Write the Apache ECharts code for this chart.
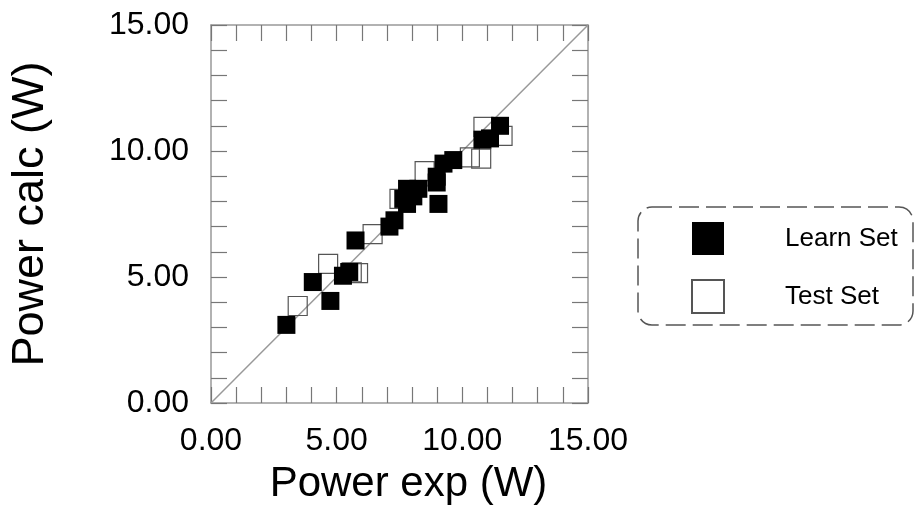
<!DOCTYPE html>
<html>
<head>
<meta charset="utf-8">
<script src="https://cdn.jsdelivr.net/npm/echarts@6/dist/echarts.min.js"></script>
<style>html,body{margin:0;padding:0;background:#fff}#c{width:919px;height:511px}</style>
</head>
<body>
<div id="c"></div>
<script>
// ---- data ----
var learnX = [3.0, 4.05, 4.75, 5.25, 5.5, 5.75, 7.1, 7.3, 7.8, 7.8, 8.25, 8.05, 7.65, 9.05, 8.98, 8.98, 9.25, 9.64, 10.8, 11.1, 11.5];
var learnY = [3.1, 4.8, 4.05, 5.05, 5.2, 6.45, 7.0, 7.25, 7.9, 8.5, 8.5, 8.2, 8.1, 7.9, 8.98, 8.75, 9.5, 9.64, 10.45, 10.5, 11.0];
var testX = [3.45, 4.66, 5.6, 5.85, 6.43, 7.5, 8.5, 10.3, 10.75, 10.84, 11.6];
var testY = [3.85, 5.52, 5.18, 5.15, 6.7, 8.1, 9.2, 9.75, 9.7, 10.96, 10.6];
var diagX = [0, 15];
var diagY = [0, 15];
var tickLabels = ['0.00', '5.00', '10.00', '15.00'];
var seriesNames = ['Learn Set', 'Test Set'];
var axisNames = ['Power exp (W)', 'Power calc (W)'];

function zip(a, b) { return a.map(function (v, i) { return [v, b[i]]; }); }
function fmt(v) { return (Math.abs(v % 5) < 1e-9) ? tickLabels[Math.round(v / 5)] : ''; }

var FONT = '"Liberation Sans", Arial, sans-serif';
var tickStyle = { show: true, inside: true, length: 16, lineStyle: { color: '#777', width: 1.2 } };
var lineStyleAxis = { show: true, onZero: false, lineStyle: { color: '#999', width: 1.5 } };

function mkAxis(pos, main, isX) {
  var a = {
    type: 'value', position: pos, min: 0, max: 15, interval: 1,
    axisLine: lineStyleAxis, axisTick: tickStyle, splitLine: { show: false },
    axisLabel: main ? {
      show: true, formatter: fmt, color: '#000', fontSize: 32, fontFamily: FONT,
      margin: isX ? 22 : 22
    } : { show: false }
  };
  if (main) {
    a.name = isX ? axisNames[0] : axisNames[1];
    a.nameLocation = 'middle';
    a.nameGap = isX ? 60 : 158;
    a.nameTextStyle = { color: '#000', fontSize: isX ? 42 : 45, fontFamily: FONT,
      padding: isX ? [0, 0, 0, 18] : [0, 0, 0, 0] };
  }
  return a;
}

var chart = echarts.init(document.getElementById('c'), null, { renderer: 'canvas' });
chart.setOption({
  animation: false,
  backgroundColor: '#fff',
  grid: { left: 211, right: 331, top: 25, bottom: 108 },
  xAxis: [mkAxis('bottom', true, true), mkAxis('top', false, true)],
  yAxis: [mkAxis('left', true, false), mkAxis('right', false, false)],
  legend: {
    data: seriesNames, orient: 'vertical', left: 686, top: 217,
    itemWidth: 32, itemHeight: 33, itemGap: 24,
    textStyle: { color: '#000', fontSize: 26, fontFamily: FONT, padding: [0, 0, 0, 56] }
  },
  graphic: [{
    type: 'rect', shape: { x: 638, y: 207, width: 275, height: 118, r: 14 },
    style: { fill: 'none', stroke: '#555', lineWidth: 1.5, lineDash: [20, 7] }, z: 0
  }],
  series: [
    {
      type: 'line', data: zip(diagX, diagY), showSymbol: false, symbol: 'none',
      lineStyle: { color: '#999', width: 1.5 }, z: 1, silent: true
    },
    {
      name: seriesNames[1], type: 'scatter', data: zip(testX, testY),
      symbol: 'rect', symbolSize: 19,
      itemStyle: { color: 'rgba(255,255,255,0)', borderColor: '#555', borderWidth: 1.2, opacity: 1 }, z: 2
    },
    {
      name: seriesNames[0], type: 'scatter', data: zip(learnX, learnY),
      symbol: 'rect', symbolSize: 18,
      itemStyle: { color: '#000', opacity: 1 }, z: 3
    }
  ]
});
</script>
</body>
</html>
